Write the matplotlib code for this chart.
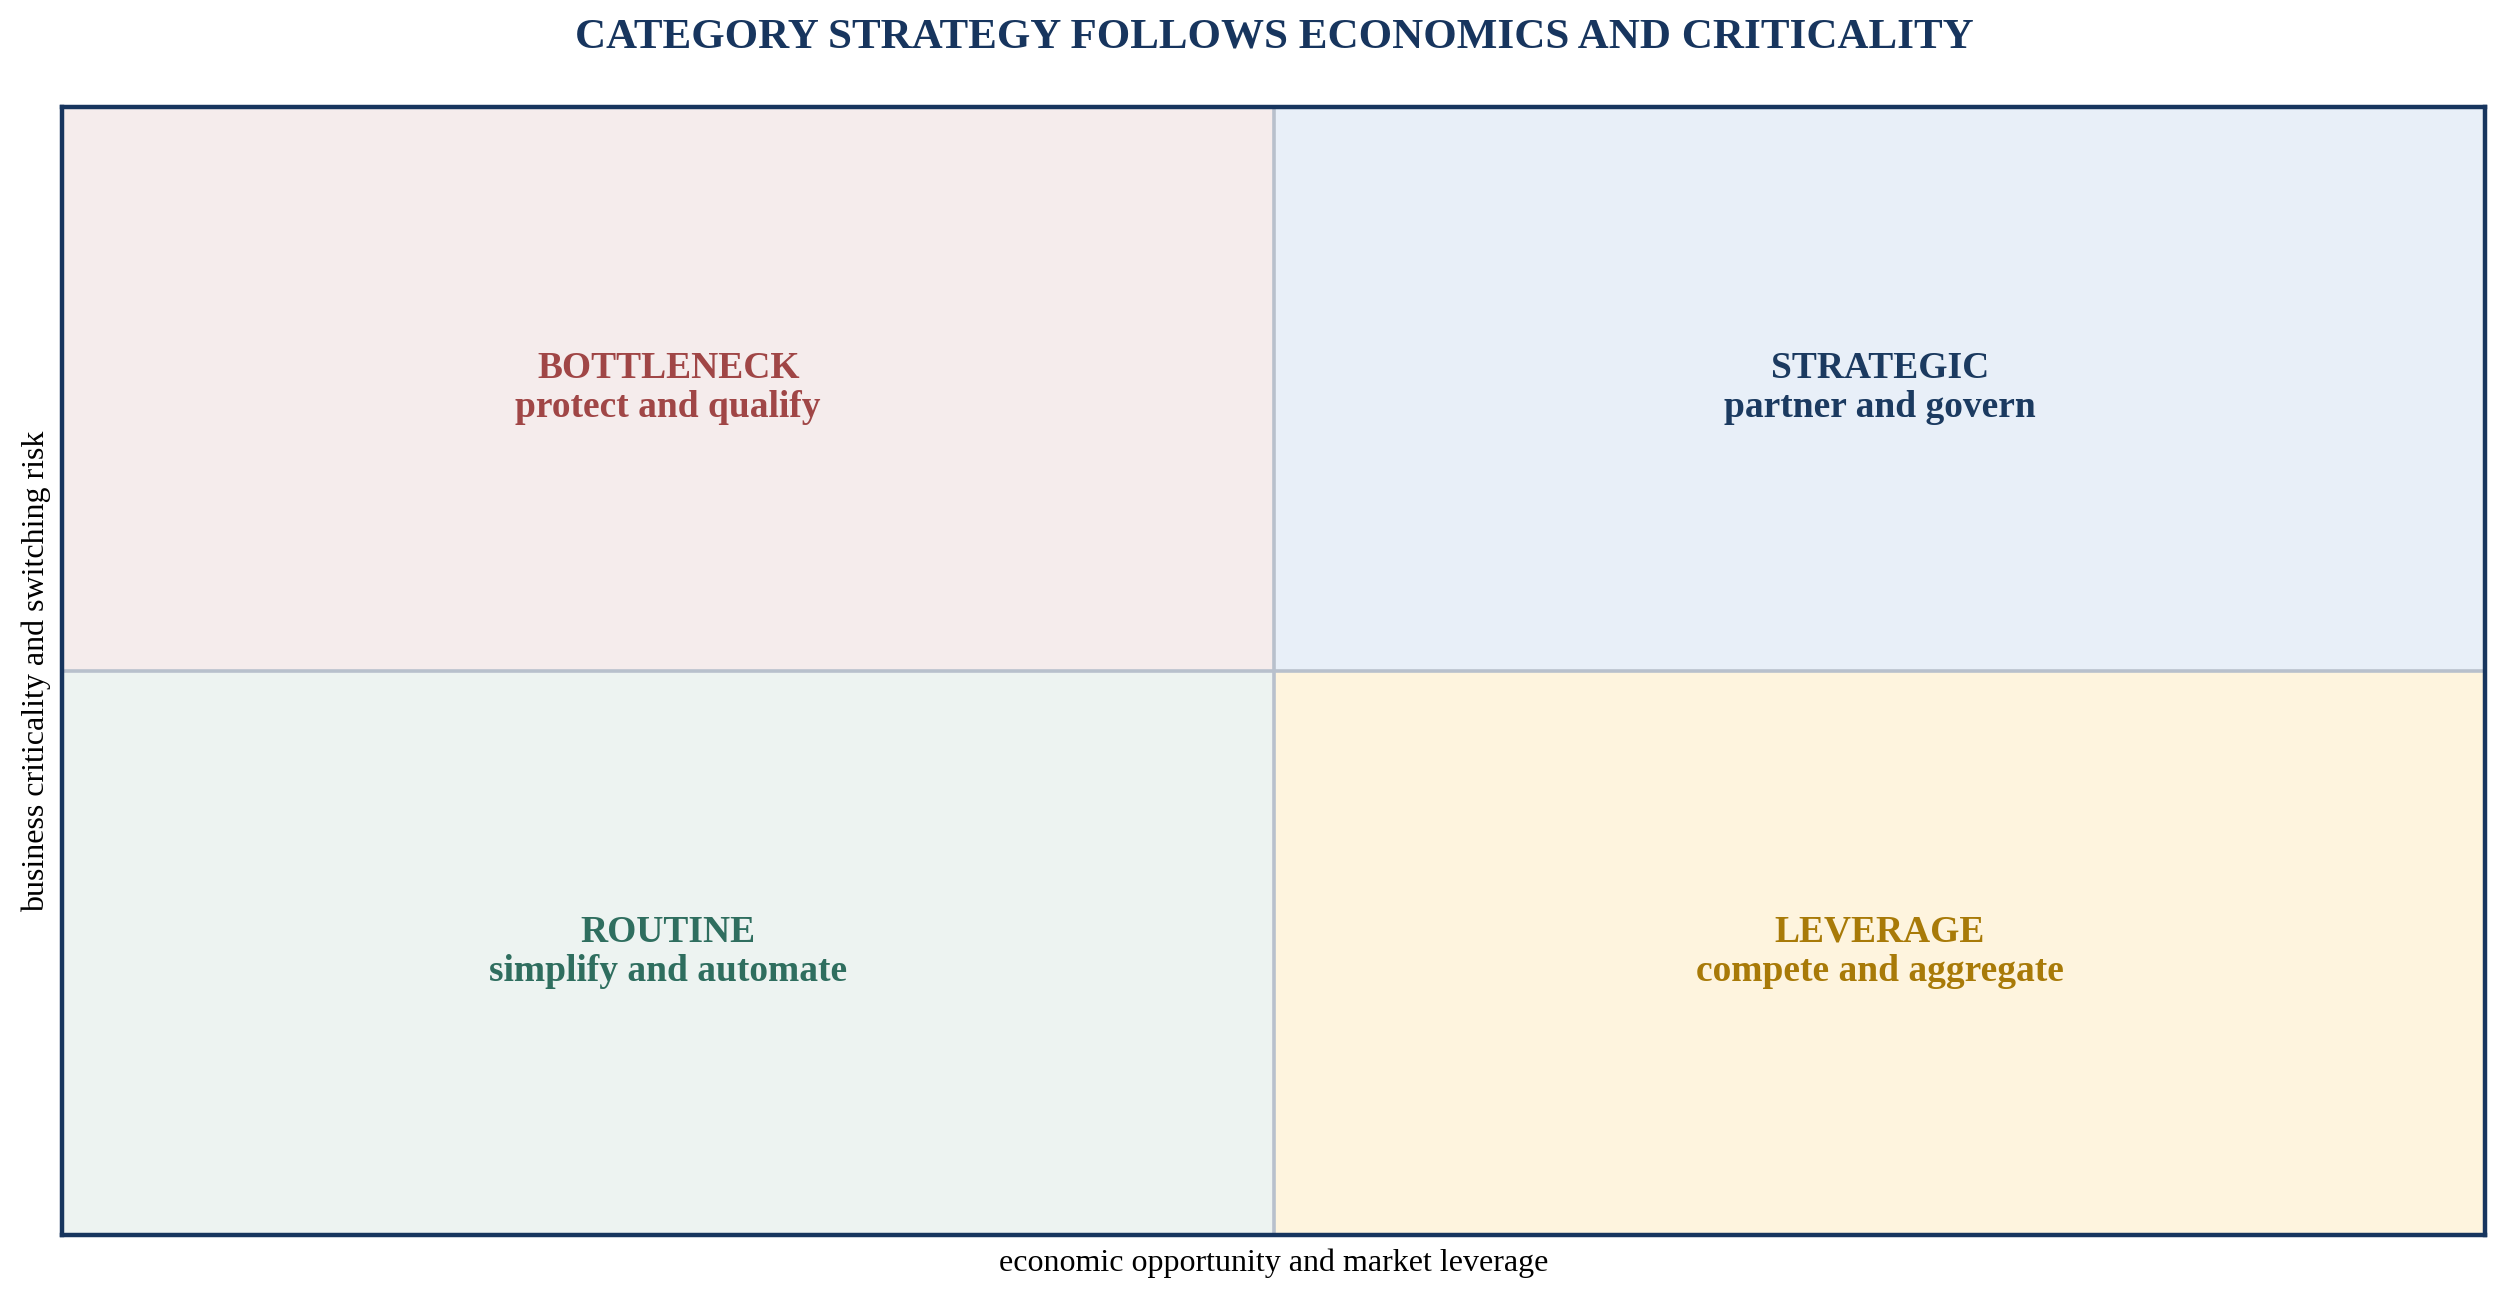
import matplotlib
matplotlib.use("Agg")
import matplotlib.pyplot as plt
from matplotlib.patches import Rectangle

plt.rcParams['font.family'] = ['Liberation Serif', 'DejaVu Serif']

# quadrant data: (x0, y0) cell, name, action, fill, text colour
names = ["BOTTLENECK", "STRATEGIC", "ROUTINE", "LEVERAGE"]
actions = ["protect and qualify", "partner and govern", "simplify and automate", "compete and aggregate"]
cell_x = [0, 1, 0, 1]
cell_y = [1, 1, 0, 0]
fills = ["#f5ecec", "#e8eff8", "#edf3f1", "#fef4de"]
colors = ["#a04646", "#1b3a60", "#2f6e5f", "#a87a08"]

title = "CATEGORY STRATEGY FOLLOWS ECONOMICS AND CRITICALITY"
xlab = "economic opportunity and market leverage"
ylab = "business criticality and switching risk"

navy = "#17355e"

fig = plt.figure(figsize=(12.54, 6.495), dpi=200)
ax = fig.add_axes([0.0249, 0.0493, 0.9661, 0.8682])
ax.set_xlim(0, 2)
ax.set_ylim(0, 2)

for i in range(4):
    ax.add_patch(Rectangle((cell_x[i], cell_y[i]), 1, 1, facecolor=fills[i],
                           edgecolor="none", zorder=1))
    cx = cell_x[i] + 0.5
    cy = cell_y[i] + 0.5
    ax.text(cx, cy + 0.037, names[i], ha="center", va="center", fontsize=13.5,
            fontweight="bold", color=colors[i], zorder=3)
    ax.text(cx, cy - 0.033, actions[i], ha="center", va="center", fontsize=13.5,
            fontweight="bold", color=colors[i], zorder=3)

ax.axvline(1, color="#b8c0cc", lw=1.3, zorder=2)
ax.axhline(1, color="#b8c0cc", lw=1.3, zorder=2)

ax.set_xticks([])
ax.set_yticks([])
for s in ax.spines.values():
    s.set_color(navy)
    s.set_linewidth(1.6)
    s.set_zorder(4)

ax.set_xlabel(xlab, fontsize=11.5, labelpad=5)
ax.set_ylabel(ylab, fontsize=11.5, labelpad=4)
fig.text(0.0249 + 0.9661 / 2, 0.986, title, ha="center", va="top", fontsize=15.5,
         fontweight="bold", color=navy)

fig.savefig("out.png", dpi=200)
